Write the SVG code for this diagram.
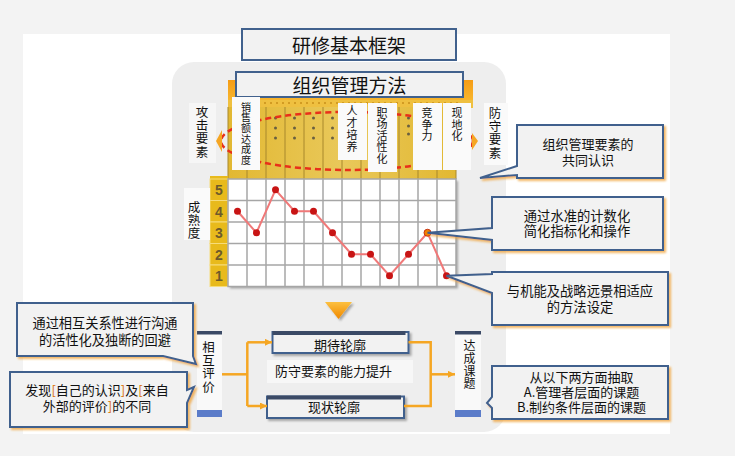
<svg xmlns="http://www.w3.org/2000/svg" width="735" height="456" viewBox="0 0 735 456">
<defs>
<style>
.t{font-family:"Noto Sans CJK SC","Liberation Sans",sans-serif;fill:#111;}
.m{text-anchor:middle;}
.v{font-family:"Noto Sans CJK SC","Liberation Sans",sans-serif;fill:#111;writing-mode:vertical-rl;text-anchor:start;}
.box{fill:#f2f2f2;stroke:#41618d;stroke-width:2;}
.cal{fill:#f2f2f2;stroke:#41618d;stroke-width:2;stroke-linejoin:miter;filter:url(#osh);}
.con{fill:none;stroke:#f5a623;stroke-width:2.5;}
.grid{stroke:#a6a6a6;stroke-width:1.5;fill:none;}
.col{stroke:#a8882c;stroke-width:1;}
.vbox{fill:#fafafa;}
.dot{fill:#c81414;}
.gdot{fill:#6a6040;}
.num{font-family:"Liberation Sans",sans-serif;font-weight:bold;font-size:14px;fill:#6d5a2a;text-anchor:middle;}
.cell{fill:#e8ba1c;stroke:#f6dc7a;stroke-width:1;}
.br{fill:#d97000;}
</style>
<linearGradient id="og" x1="0" y1="0" x2="0" y2="1"><stop offset="0" stop-color="#f59c14"/><stop offset="1" stop-color="#f8b830"/></linearGradient>
<linearGradient id="gold" x1="0" y1="0" x2="1" y2="0"><stop offset="0" stop-color="#e2b832"/><stop offset="0.5" stop-color="#e9c85a"/><stop offset="1" stop-color="#e2b832"/></linearGradient>
<linearGradient id="tri" x1="0" y1="0" x2="0" y2="1"><stop offset="0" stop-color="#fcc040"/><stop offset="1" stop-color="#f08800"/></linearGradient>
<filter id="osh" x="-10%" y="-20%" width="125%" height="150%"><feDropShadow dx="2" dy="2" stdDeviation="1.2" flood-color="#f0a030" flood-opacity="0.75"/></filter>
<filter id="gsh" x="-10%" y="-20%" width="125%" height="160%"><feDropShadow dx="2" dy="2" stdDeviation="1.3" flood-color="#000" flood-opacity="0.3"/></filter>
<marker id="ar" markerWidth="7" markerHeight="7" refX="7" refY="3.5" orient="auto" markerUnits="userSpaceOnUse"><path d="M0,0 L7,3.5 L0,7 Z" fill="#f5a623"/></marker>
</defs>

<!-- background -->
<rect width="735" height="456" fill="#f3f3f3"/>
<rect x="23" y="34" width="647" height="400" fill="#ffffff"/>
<rect x="172" y="62" width="334" height="370" rx="22" fill="#eeeeee"/>

<!-- title -->
<g id="title">
<rect x="242" y="29" width="214" height="31" class="box"/>
<text x="349" y="52.5" class="t m" font-size="19">研修基本框架</text>
</g>

<!-- chart -->
<g id="chart">
<rect x="228" y="80" width="245" height="22" fill="url(#og)"/>
<rect x="228" y="100" width="245" height="8" fill="#efc040"/>
<line x1="240" y1="103" x2="462" y2="103" stroke="#c9901a" stroke-width="1.5" stroke-dasharray="2 4"/>
<rect x="228" y="107" width="228" height="72" fill="url(#gold)"/>
<line x1="228" y1="107" x2="228" y2="179" class="col"/>
<line x1="247" y1="107" x2="247" y2="179" class="col"/>
<line x1="266" y1="107" x2="266" y2="179" class="col"/>
<line x1="285" y1="107" x2="285" y2="179" class="col"/>
<line x1="304" y1="107" x2="304" y2="179" class="col"/>
<line x1="323" y1="107" x2="323" y2="179" class="col"/>
<line x1="342" y1="107" x2="342" y2="179" class="col"/>
<line x1="361" y1="107" x2="361" y2="179" class="col"/>
<line x1="380" y1="107" x2="380" y2="179" class="col"/>
<line x1="399" y1="107" x2="399" y2="179" class="col"/>
<line x1="418" y1="107" x2="418" y2="179" class="col"/>
<line x1="437" y1="107" x2="437" y2="179" class="col"/>
<line x1="456" y1="107" x2="456" y2="179" class="col"/>
<g class="gdot">
<circle cx="275.5" cy="118" r="1.5"/><circle cx="275.5" cy="128" r="1.5"/><circle cx="275.5" cy="138" r="1.5"/>
<circle cx="294.5" cy="118" r="1.5"/><circle cx="294.5" cy="128" r="1.5"/><circle cx="294.5" cy="138" r="1.5"/>
<circle cx="313.5" cy="118" r="1.5"/><circle cx="313.5" cy="128" r="1.5"/><circle cx="313.5" cy="138" r="1.5"/>
<circle cx="332.5" cy="118" r="1.5"/><circle cx="332.5" cy="128" r="1.5"/><circle cx="332.5" cy="138" r="1.5"/>
<circle cx="408.5" cy="118" r="1.5"/><circle cx="408.5" cy="126" r="1.5"/><circle cx="408.5" cy="134" r="1.5"/>
</g>
<ellipse cx="347" cy="141" rx="126" ry="29" fill="none" stroke="#e8301a" stroke-width="2.5" stroke-dasharray="6 4"/>
<polygon points="222,130 216,141 222,152" fill="#f5a623"/>
<polygon points="472,133 478,141 472,150" fill="#f5a623"/>

<!-- number column -->
<rect x="210" y="176" width="18" height="4" fill="#e8ba1c"/>
<rect x="210" y="179" width="18" height="21.5" class="cell"/>
<rect x="210" y="200.5" width="18" height="21.5" class="cell"/>
<rect x="210" y="222" width="18" height="21.5" class="cell"/>
<rect x="210" y="243.5" width="18" height="21.5" class="cell"/>
<rect x="210" y="265" width="18" height="21.5" class="cell"/>
<text x="219" y="195" class="num">5</text>
<text x="219" y="216.5" class="num">4</text>
<text x="219" y="238" class="num">3</text>
<text x="219" y="259.5" class="num">2</text>
<text x="219" y="281" class="num">1</text>

<!-- grid -->
<rect x="228" y="179" width="228" height="107.5" fill="#ffffff" filter="url(#gsh)"/>
<g class="grid">
<rect x="228" y="179" width="228" height="107.5"/>
<path d="M247,179V286.5M266,179V286.5M285,179V286.5M304,179V286.5M323,179V286.5M342,179V286.5M361,179V286.5M380,179V286.5M399,179V286.5M418,179V286.5M437,179V286.5"/>
<path d="M228,200.5H456M228,222H456M228,243.5H456M228,265H456"/>
</g>
<polyline points="237.5,211.25 256.5,232.75 275.5,189.75 294.5,211.25 313.5,211.25 332.5,232.75 351.5,254.25 370.5,254.25 389.5,275.75 408.5,254.25 427.5,232.75 446.5,275.75" fill="none" stroke="#f07878" stroke-width="2"/>
<g class="dot">
<circle cx="237.5" cy="211.25" r="3.5"/><circle cx="256.5" cy="232.75" r="3.5"/><circle cx="275.5" cy="189.75" r="3.5"/>
<circle cx="294.5" cy="211.25" r="3.5"/><circle cx="313.5" cy="211.25" r="3.5"/><circle cx="332.5" cy="232.75" r="3.5"/>
<circle cx="351.5" cy="254.25" r="3.5"/><circle cx="370.5" cy="254.25" r="3.5"/><circle cx="389.5" cy="275.75" r="3.5"/>
<circle cx="408.5" cy="254.25" r="3.5"/><circle cx="446.5" cy="275.75" r="3.5"/>
</g>
<circle cx="427.5" cy="232.75" r="3.5" fill="#f08000" stroke="#c83010" stroke-width="1"/>
</g>

<!-- subtitle -->
<g id="subtitle">
<rect x="236" y="72" width="227" height="25" class="box"/>
<text x="349.5" y="93" class="t m" font-size="19">组织管理方法</text>
</g>

<!-- column labels -->
<g id="label-sales">
<rect x="232" y="97" width="28" height="73" class="vbox"/>
<text x="246" y="102" class="v" font-size="10" letter-spacing="0.6">销售额达成度</text>
</g>
<g id="label-talent">
<rect x="338" y="103" width="29" height="57" class="vbox"/>
<text x="352" y="105.5" class="v" font-size="11" letter-spacing="0.8">人才培养</text>
</g>
<g id="label-workplace">
<rect x="368" y="103" width="29" height="69" class="vbox"/>
<text x="382" y="107" class="v" font-size="11" letter-spacing="0.6">职场活性化</text>
</g>
<g id="label-compete">
<rect x="413" y="103" width="29" height="67" class="vbox"/>
<text x="427" y="107.5" class="v" font-size="11" letter-spacing="0.6">竞争力</text>
</g>
<g id="label-local">
<rect x="443" y="103" width="28" height="67" class="vbox"/>
<text x="457" y="107.5" class="v" font-size="11" letter-spacing="0.6">现地化</text>
</g>
<g id="attack">
<rect x="189" y="103" width="27" height="60" fill="#f6f6f6"/>
<text x="202" y="106" class="v" font-size="12.5" letter-spacing="0.7">攻击要素</text>
</g>
<g id="defense">
<rect x="484" y="103" width="24" height="62" fill="#fafafa"/>
<text x="495" y="107" class="v" font-size="12.5" letter-spacing="0.7">防守要素</text>
</g>
<g id="maturity">
<rect x="184" y="188" width="26" height="52" fill="#fafafa"/>
<text x="194" y="200.5" class="v" font-size="12.5" letter-spacing="0.8">成熟度</text>
</g>

<!-- down arrow -->
<g id="down-arrow">
<polygon points="325,302 352,302 338.5,319" fill="url(#tri)" filter="url(#gsh)"/>
</g>

<!-- bottom flow nodes -->
<g id="mutual-eval">
<rect x="197" y="331" width="25" height="86" fill="#f9f9f9"/>
<rect x="197" y="331" width="25" height="3.5" fill="#3b4a66"/>
<rect x="197" y="410" width="25" height="7" fill="#5b7cc9"/>
<text x="208.5" y="341" class="v" font-size="12.5" letter-spacing="0.7">相互评价</text>
</g>
<g id="achieve">
<rect x="455" y="331" width="26" height="86" fill="#f9f9f9"/>
<rect x="455" y="331" width="26" height="3.5" fill="#3b4a66"/>
<rect x="455" y="410" width="26" height="7" fill="#5b7cc9"/>
<text x="469.5" y="339.5" class="v" font-size="12" letter-spacing="0.8">达成课题</text>
</g>
<g id="expected">
<rect x="272.5" y="332" width="136" height="21" class="box" filter="url(#gsh)"/>
<rect x="272.5" y="331" width="133" height="4" fill="#3b4a66"/>
<text x="340" y="349.5" class="t m" font-size="13">期待轮廓</text>
</g>
<g id="current">
<rect x="267" y="396.5" width="137" height="21.5" class="box" filter="url(#gsh)"/>
<rect x="267" y="395.5" width="134" height="4" fill="#3b4a66"/>
<text x="334" y="412" class="t m" font-size="13">现状轮廓</text>
</g>
<g id="ability">
<rect x="267" y="360" width="146" height="23" fill="#f7f7f7"/>
<text x="275" y="376" class="t" font-size="13">防守要素的能力提升</text>
</g>

<!-- connectors -->
<g id="connectors">
<path class="con" d="M222,374.3H247.3"/>
<path class="con" d="M247.3,342.3V406"/>
<path class="con" d="M247.3,342.3H272" marker-end="url(#ar)"/>
<path class="con" d="M247.3,406H267" marker-end="url(#ar)"/>
<path class="con" d="M408.5,342.3H430.7V406H404"/>
<path class="con" d="M430.7,374.3H455" marker-end="url(#ar)"/>
</g>

<!-- callouts -->
<g id="callout-common">
<path class="cal" d="M517,125H663V178H517V175L480,178L517,166Z"/>
<text class="t m" font-size="13"><tspan x="588" y="148.5">组织管理要素的</tspan><tspan x="588" y="165">共同认识</tspan></text>
</g>
<g id="callout-level">
<path class="cal" d="M492,197H663V250H492V240L427.5,232.75L492,228Z"/>
<text class="t m" font-size="13.3"><tspan x="577" y="220.5">通过水准的计数化</tspan><tspan x="577" y="236">简化指标化和操作</tspan></text>
</g>
<g id="callout-method">
<path class="cal" d="M492,272H668V325H492V293L446.5,275.75L492,274Z"/>
<text class="t m" font-size="13.3"><tspan x="580" y="296">与机能及战略远景相适应</tspan><tspan x="580" y="312">的方法设定</tspan></text>
</g>
<g id="callout-extract">
<path class="cal" d="M492,366H668V419H492V408L487,403L492,397Z"/>
<text class="t m" font-size="13"><tspan x="581.5" y="382">从以下两方面抽取</tspan><tspan x="581.5" y="397">A.管理者层面的课题</tspan><tspan x="581.5" y="412">B.制约条件层面的课题</tspan></text>
</g>
<g id="callout-communication">
<path class="cal" d="M17,303H193V356L196,364L163,356H17Z"/>
<text class="t m" font-size="13.2"><tspan x="105" y="328">通过相互关系性进行沟通</tspan><tspan x="105" y="344.5">的活性化及独断的回避</tspan></text>
</g>
<g id="callout-difference">
<path class="cal" d="M10,372H187V390L194,387L187,403V427H10Z"/>
<text class="t m" font-size="13"><tspan x="97" y="394.5">发现<tspan class="br">[</tspan>自己的认识<tspan class="br">]</tspan>及<tspan class="br">[</tspan>来自</tspan><tspan x="97" y="411">外部的评价<tspan class="br">]</tspan>的不同</tspan></text>
</g>
</svg>
